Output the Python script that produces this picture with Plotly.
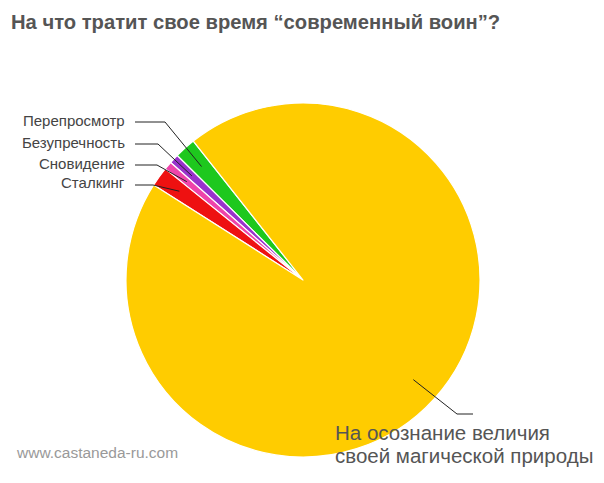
import math
import plotly.graph_objects as go

W, H = 604, 483

# Data (percent of time), in counterclockwise order starting from the green slice
labels = ["Перепросмотр", "Безупречность", "Сновидение", "Сталкинг",
          "На осознание величия<br>своей магической природы"]
values = [1.95, 0.86, 0.75, 1.78, 94.66]
colors = ["#1ec81e", "#9933cc", "#ee44aa", "#ee1111", "#ffcc00"]

title = "На что тратит свое время “современный воин”?"
watermark = "www.castaneda-ru.com"

# Layout of the pie in pixels
cx, cy, R = 303, 280, 177
start_angle = -38.3  # where the first (green) slice begins, clockwise from 12 o'clock
total = sum(values)
# plotly (counterclockwise): first slice ends at `rotation`, so shift by its size
rotation = start_angle - values[0] / total * 360

def px(x):
    return x / W

def py(y):
    return 1 - y / H

fig = go.Figure(go.Pie(
    labels=labels, values=values, sort=False, direction="counterclockwise",
    rotation=rotation, textinfo="none", hoverinfo="label+percent",
    marker=dict(colors=colors, line=dict(color="white", width=1.2)),
    domain=dict(x=[px(cx - R), px(cx + R)], y=[py(cy + R), py(cy - R)]),
    showlegend=False,
))

# mid-angles of slices from the data (degrees clockwise from 12 o'clock)
mids = []
acc = 0.0
for v in values:
    a0 = start_angle - acc / total * 360
    a1 = start_angle - (acc + v) / total * 360
    mids.append((a0 + a1) / 2)
    acc += v

def inner_point(ang, frac=0.86):
    t = math.radians(ang)
    return cx + frac * R * math.sin(t), cy - frac * R * math.cos(t)

font_family = "Liberation Sans, Arial"
shapes = []
annotations = []
label_y = [120, 142, 163, 183]
elbow_x = [165, 158, 157, 153]
for i in range(4):
    ex, ey = inner_point(mids[i])
    yl = label_y[i] + 2
    path = f"M {px(135)},{py(yl)} L {px(elbow_x[i])},{py(yl)} L {px(ex)},{py(ey)}"
    shapes.append(dict(type="path", xref="paper", yref="paper", path=path,
                       line=dict(color="#222222", width=1)))
    annotations.append(dict(text=labels[i], x=px(127), y=py(label_y[i]),
                            xref="paper", yref="paper", xanchor="right", yanchor="middle",
                            showarrow=False,
                            font=dict(family=font_family, size=15, color="#444444")))

# big slice label
ex, ey = inner_point(mids[4], 0.84)
path = f"M {px(ex)},{py(ey)} L {px(457)},{py(414)} L {px(473)},{py(414)}"
shapes.append(dict(type="path", xref="paper", yref="paper", path=path,
                   line=dict(color="#222222", width=1)))
for line_text, yy in zip(labels[4].split("<br>"), [432, 455]):
    annotations.append(dict(text=line_text, x=px(333), y=py(yy), xref="paper", yref="paper",
                            xanchor="left", yanchor="middle", align="left", showarrow=False,
                            font=dict(family=font_family, size=20.5, color="#555555")))

annotations.append(dict(text=f"<b>{title}</b>", x=px(9), y=py(22), xref="paper", yref="paper",
                        xanchor="left", yanchor="middle", showarrow=False,
                        font=dict(family=font_family, size=20.2, color="#555555")))
annotations.append(dict(text=watermark, x=px(14), y=py(452), xref="paper", yref="paper",
                        xanchor="left", yanchor="middle", showarrow=False,
                        font=dict(family=font_family, size=15.5, color="#999999")))

fig.update_layout(width=W, height=H, margin=dict(l=0, r=0, t=0, b=0),
                  paper_bgcolor="white", plot_bgcolor="white",
                  shapes=shapes, annotations=annotations)

fig.write_html("out.html", config={"displayModeBar": False},
               post_script="document.body.style.margin='0';document.body.style.padding='0';")
